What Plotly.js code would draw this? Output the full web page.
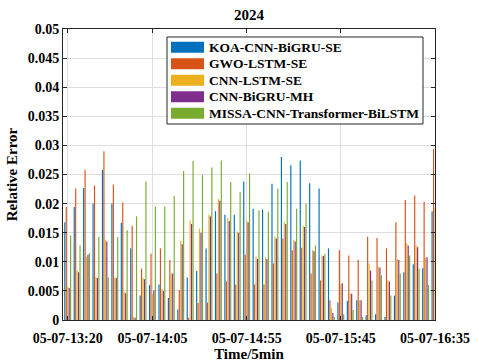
<!DOCTYPE html>
<html><head><meta charset="utf-8">
<script src="https://cdn.plot.ly/plotly-3.0.1.min.js"></script>
<style>html,body{margin:0;padding:0;background:#fff}#chart{width:479px;height:364px}</style>
</head><body><div id="chart"></div>
<script>
const times = ["05-07-13:20","05-07-13:25","05-07-13:30","05-07-13:35","05-07-13:40","05-07-13:45","05-07-13:50","05-07-13:55","05-07-14:00","05-07-14:05",
"05-07-14:10","05-07-14:15","05-07-14:20","05-07-14:25","05-07-14:30","05-07-14:35","05-07-14:40","05-07-14:45","05-07-14:50","05-07-14:55",
"05-07-15:00","05-07-15:05","05-07-15:10","05-07-15:15","05-07-15:20","05-07-15:25","05-07-15:30","05-07-15:35","05-07-15:40","05-07-15:45",
"05-07-15:50","05-07-15:55","05-07-16:00","05-07-16:05","05-07-16:10","05-07-16:15","05-07-16:20","05-07-16:25","05-07-16:30","05-07-16:35"];
const tickLabels = ["05-07-13:20","05-07-14:05","05-07-14:55","05-07-15:45","05-07-16:35"];
const seriesNames = ["KOA-CNN-BiGRU-SE","GWO-LSTM-SE","CNN-LSTM-SE","CNN-BiGRU-MH","MISSA-CNN-Transformer-BiLSTM"];
const koa = [0.0168,0.0194,0.0227,0.0200,0.0258,0.0200,0.0167,0.0123,0.0042,0.0060,
0.0061,0.0038,0.0018,0.0073,0.0084,0.0123,0.0187,0.0181,0.0181,0.0238,
0.0191,0.0190,0.0234,0.0280,0.0266,0.0274,0.0235,0.0226,0.0123,0.0030,
0.0033,0.0034,0.0008,0.0010,0.0005,0.0042,0.0082,0.0096,0.0089,0.0187];
const gwo = [0.0194,0.0226,0.0258,0.0231,0.0290,0.0233,0.0202,0.0162,0.0088,0.0114,
0.0123,0.0103,0.0051,0.0004,0.0029,0.0030,0.0080,0.0066,0.0061,0.0112,
0.0061,0.0061,0.0097,0.0140,0.0120,0.0124,0.0080,0.0068,0.0034,0.0120,
0.0111,0.0103,0.0143,0.0141,0.0123,0.0168,0.0206,0.0214,0.0203,0.0294];
const cnnLstm = [0.0057,0.0085,0.0108,0.0074,0.0138,0.0073,0.0048,0.0005,0.0072,0.0045,
0.0053,0.0080,0.0136,0.0171,0.0157,0.0181,0.0208,0.0175,0.0152,0.0171,
0.0109,0.0108,0.0143,0.0168,0.0138,0.0162,0.0120,0.0111,0.0020,0.0062,
0.0045,0.0034,0.0097,0.0091,0.0068,0.0105,0.0132,0.0128,0.0107,0.0192];
const cnnBigru = [0.0055,0.0082,0.0112,0.0072,0.0135,0.0072,0.0046,0.0004,0.0070,0.0051,
0.0050,0.0080,0.0130,0.0165,0.0150,0.0178,0.0205,0.0170,0.0150,0.0168,
0.0105,0.0105,0.0140,0.0165,0.0135,0.0160,0.0118,0.0110,0.0012,0.0063,
0.0045,0.0034,0.0085,0.0090,0.0066,0.0103,0.0128,0.0125,0.0108,0.0152];
const missa = [0.0145,0.0128,0.0115,0.0143,0.0073,0.0142,0.0154,0.0178,0.0238,0.0195,
0.0195,0.0213,0.0256,0.0273,0.0249,0.0262,0.0274,0.0237,0.0220,0.0252,
0.0188,0.0186,0.0226,0.0237,0.0191,0.0200,0.0128,0.0114,0.0005,0.0010,
0.0017,0.0005,0.0068,0.0077,0.0042,0.0080,0.0111,0.0088,0.0060,0.0152];
const colors = ["#0072BD","#D95319","#EDB120","#7E2F8E","#77AC30"];
const allSeries = [koa,gwo,cnnLstm,cnnBigru,missa];

const FONT = "Liberation Serif, Times New Roman, serif";
const traces = allSeries.map((vals,i)=>({
  type:"bar", x:times, y:vals, name:seriesNames[i],
  marker:{color:colors[i], line:{width:0}}, cliponaxis:false
}));

// custom legend (wide swatches like the reference), in paper coordinates
const H = 291, W = 372;
const shapes = [{type:"rect", xref:"paper", yref:"paper", layer:"above",
  x0:(167-63)/W, x1:(423-63)/W, y0:(320-124)/H, y1:(320-37)/H,
  fillcolor:"#fff", line:{color:"#262626", width:1}}];
const annotations = [];
seriesNames.forEach((nm,i)=>{
  const cy = 47.3 + 16.5*i;
  shapes.push({type:"rect", xref:"paper", yref:"paper", layer:"above",
    x0:(171-63)/W, x1:(204-63)/W, y0:(320-(cy+5.5))/H, y1:(320-(cy-5.5))/H,
    fillcolor:colors[i], line:{width:0}});
  annotations.push({xref:"paper", yref:"paper", x:(207-63)/W, y:(320-cy)/H, xanchor:"left", yanchor:"middle",
    text:nm, showarrow:false, font:{family:FONT, size:13.5, weight:700, color:"#000"}});
});

const layout = {
  width:479, height:364,
  margin:{l:63, r:44, t:29, b:44},
  paper_bgcolor:"#fff", plot_bgcolor:"#fff",
  font:{family:FONT, size:14, color:"#000", weight:700},
  title:{text:"2024", font:{family:FONT, size:15, weight:700, color:"#000"}, x:0.52, xanchor:"center", y:0.975, yanchor:"top"},
  barmode:"group", bargap:0.23, bargroupgap:0.2,
  showlegend:false, shapes:shapes, annotations:annotations,
  xaxis:{type:"category", range:[-0.5,39], tickmode:"array", tickvals:tickLabels, ticktext:tickLabels,
    tickangle:0, ticks:"inside", ticklen:4, tickcolor:"#262626", showline:true, linecolor:"#262626", linewidth:1, mirror:"ticks",
    showgrid:true, gridcolor:"#dedede", gridwidth:1, ticklabelstandoff:5,
    tickfont:{family:FONT, size:14, weight:700, color:"#000"},
    title:{text:"Time/5min", font:{family:FONT, size:15, weight:700, color:"#000"}, standoff:2}},
  yaxis:{range:[0,0.05], dtick:0.005, tick0:0, ticks:"inside", ticklen:4, tickcolor:"#262626",
    showline:true, linecolor:"#262626", linewidth:1, mirror:"ticks", showgrid:true, gridcolor:"#dedede", gridwidth:1, zeroline:false,
    tickfont:{family:FONT, size:14, weight:700, color:"#000"},
    title:{text:"Relative Error", font:{family:FONT, size:15, weight:700, color:"#000"}, standoff:6}}
};
Plotly.newPlot("chart", traces, layout, {displayModeBar:false, staticPlot:true});
</script></body></html>
